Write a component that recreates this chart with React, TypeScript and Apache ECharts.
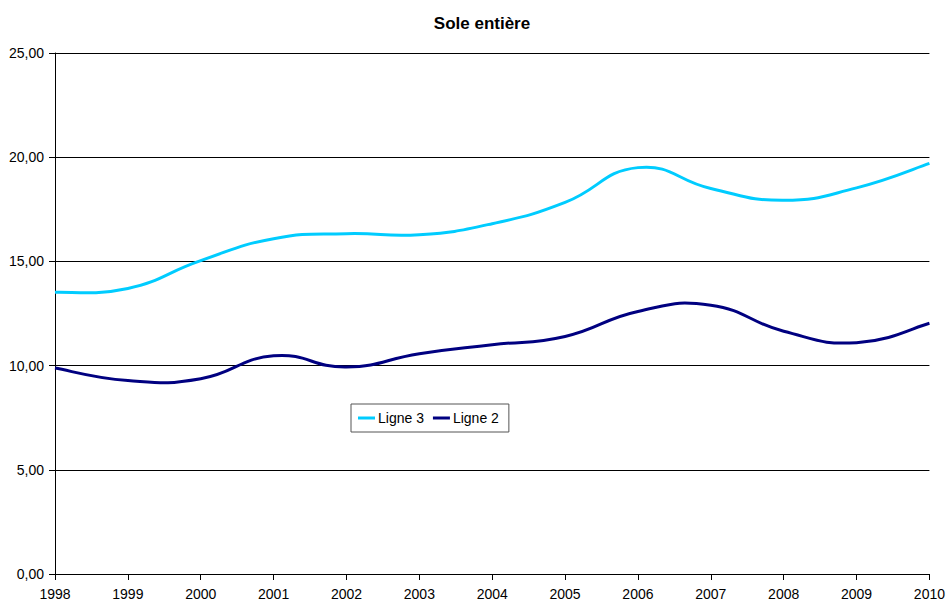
import React, { useEffect, useRef } from "react";
import * as echarts from "echarts";

const years = ["1998", "1999", "2000", "2001", "2002", "2003", "2004", "2005", "2006", "2007", "2008", "2009", "2010"];
const ligne3 = [13.52, 13.7, 15.04, 16.09, 16.33, 16.28, 16.81, 17.83, 19.5, 18.5, 17.93, 18.53, 19.7];
const ligne2 = [9.88, 9.28, 9.37, 10.47, 9.93, 10.57, 11.0, 11.4, 12.6, 12.9, 11.65, 11.1, 12.03];
const yTicks = [0, 5, 10, 15, 20, 25];

const SMOOTH_K = 0.24;

function makeRenderItem(values: number[], color: string) {
  return (params: any, api: any) => {
    if (params.dataIndex !== 0) return { type: "group", children: [] };
    const pts = values.map((v, i) => api.coord([i, v]));
    let d = `M${pts[0][0]},${pts[0][1]}`;
    for (let i = 0; i < pts.length - 1; i++) {
      const p0 = pts[i - 1] || pts[i];
      const p1 = pts[i];
      const p2 = pts[i + 1];
      const p3 = pts[i + 2] || pts[i + 1];
      const c1x = p1[0] + SMOOTH_K * (p2[0] - p0[0]);
      const c1y = p1[1] + SMOOTH_K * (p2[1] - p0[1]);
      const c2x = p2[0] - SMOOTH_K * (p3[0] - p1[0]);
      const c2y = p2[1] - SMOOTH_K * (p3[1] - p1[1]);
      d += ` C${c1x},${c1y} ${c2x},${c2y} ${p2[0]},${p2[1]}`;
    }
    return {
      type: "path",
      shape: { pathData: d },
      style: { fill: "none", stroke: color, lineWidth: 3 },
      silent: true,
    };
  };
}

export default function App() {
  const ref = useRef<HTMLDivElement>(null);
  useEffect(() => {
    if (!ref.current) return;
    const chart = echarts.init(ref.current, null, { renderer: "svg" });
    const font = "Liberation Sans, Arial, sans-serif";
    chart.setOption({
      animation: false,
      backgroundColor: "#ffffff",
      title: {
        text: "Sole entière",
        left: 477,
        top: 10,
        textAlign: "center",
        textStyle: { fontFamily: font, fontSize: 17, fontWeight: "bold", color: "#000" },
      },
      legend: {
        left: 351,
        top: 404,
        orient: "horizontal",
        itemWidth: 17,
        itemHeight: 3,
        itemGap: 9,
        padding: [7, 10, 7, 7],
        borderColor: "#555",
        borderWidth: 1,
        icon: "rect",
        textStyle: { fontFamily: font, fontSize: 14, color: "#000", padding: [0, 0, 0, -2] },
        data: ["Ligne 3", "Ligne 2"],
      },
      grid: { left: 55, right: 18, top: 53, bottom: 27, containLabel: false },
      xAxis: {
        type: "category",
        data: years,
        boundaryGap: false,
        axisLine: { lineStyle: { color: "#000", width: 1 } },
        axisTick: { show: true, length: 6, inside: false, lineStyle: { color: "#000" } },
        axisLabel: { fontFamily: font, fontSize: 14, color: "#000", margin: 13 },
        splitLine: { show: false },
      },
      yAxis: {
        type: "value",
        min: yTicks[0],
        max: yTicks[yTicks.length - 1],
        interval: 5,
        axisLine: { show: true, lineStyle: { color: "#000", width: 1 } },
        axisTick: { show: true, length: 6, lineStyle: { color: "#000" } },
        axisLabel: {
          fontFamily: font,
          fontSize: 14,
          color: "#000",
          margin: 11,
          formatter: (v: number) => v.toFixed(2).replace(".", ","),
        },
        splitLine: { show: true, lineStyle: { color: "#000", width: 1 } },
      },
      series: [
        {
          name: "Ligne 3",
          type: "custom",
          data: ligne3.map((v, i) => [i, v]),
          encode: { x: 0, y: 1 },
          renderItem: makeRenderItem(ligne3, "#00CCFF"),
          itemStyle: { color: "#00CCFF" },
          clip: false,
        },
        {
          name: "Ligne 2",
          type: "custom",
          data: ligne2.map((v, i) => [i, v]),
          encode: { x: 0, y: 1 },
          renderItem: makeRenderItem(ligne2, "#000080"),
          itemStyle: { color: "#000080" },
          clip: false,
        },
      ],
    });
    return () => chart.dispose();
  }, []);
  return <div ref={ref} style={{ width: 948, height: 601, position: "absolute", left: 0, top: 0 }} />;
}
